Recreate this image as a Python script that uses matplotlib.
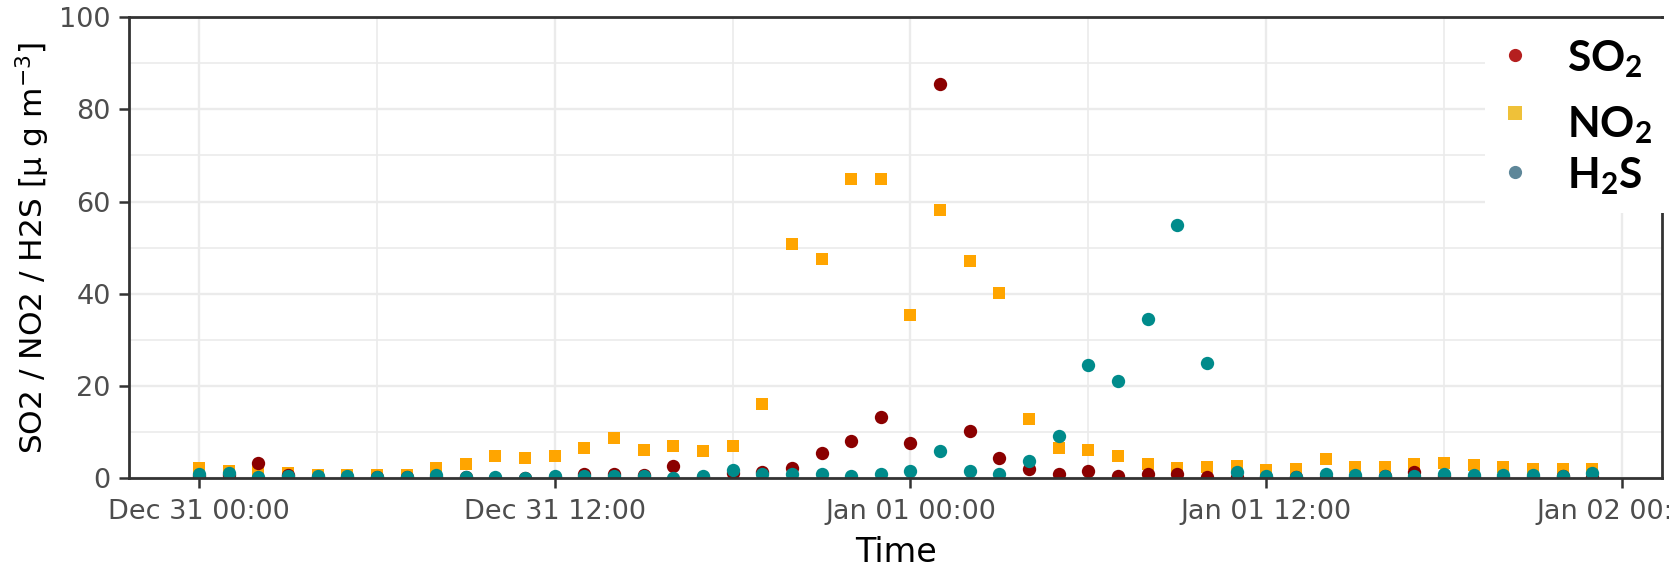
import numpy as np
import pandas as pd
import matplotlib
matplotlib.use("Agg")
import matplotlib.pyplot as plt
import matplotlib.dates as mdates

plt.rcParams['font.family'] = ['DejaVu Sans']
plt.rcParams['mathtext.fontset'] = 'custom'
plt.rcParams['mathtext.rm'] = 'DejaVu Sans'
plt.rcParams['mathtext.it'] = 'DejaVu Sans:italic'
plt.rcParams['mathtext.bf'] = 'Lato:bold'

# hourly concentrations, Dec 31 00:00 .. Jan 01 23:00
times = pd.date_range('2019-12-31 00:00', periods=48, freq='h')

no2 = [2.2, 1.5, 1.8, 1.2, 0.8, 0.8, 0.8, 0.8, 2.2, 3.0, 4.8, 4.3,
       4.8, 6.5, 8.7, 6.2, 6.9, 6.0, 6.9, 16.2, 50.8, 47.5, 64.9, 64.9,
       35.5, 58.1, 47.1, 40.2, 12.9, 6.5, 6.1, 4.8, 3.2, 2.3, 2.4, 2.6,
       1.7, 2.0, 4.1, 2.5, 2.5, 3.0, 3.4, 2.9, 2.4, 2.0, 2.0, 2.0]

so2 = [0.5, 0.8, 3.3, 0.8, 0.3, 0.3, 0.2, 0.2, 0.3, 0.2, 0.1, 0.1,
       0.2, 0.9, 0.9, 0.8, 2.7, 0.3, 1.2, 1.4, 2.2, 5.4, 8.0, 13.4,
       7.6, 85.4, 10.2, 4.3, 2.0, 1.0, 1.6, 0.6, 1.0, 0.9, 0.3, 0.3,
       0.2, 0.2, 0.3, 0.3, 0.5, 1.4, 0.4, 0.3, 0.3, 0.3, 0.6, 0.3]

h2s = [1.0, 1.2, 0.2, 0.4, 0.6, 0.6, 0.3, 0.3, 0.8, 0.3, 0.3, 0.0,
       0.4, 0.4, 0.4, 0.4, 0.1, 0.6, 1.8, 0.9, 0.9, 1.0, 0.6, 1.0,
       1.6, 6.0, 1.6, 1.0, 3.7, 9.2, 24.6, 21.2, 34.5, 55.0, 25.0, 1.3,
       0.6, 0.2, 0.9, 0.7, 0.4, 0.4, 0.9, 0.7, 0.7, 0.7, 0.4, 1.1]

fig = plt.figure(figsize=(16.69, 5.67), dpi=100)
ax = fig.add_axes([0.0775, 0.1564, 0.9183, 0.8136])

ax.plot(times, no2, ls='none', marker='s', ms=9.2, mew=0, color='#FFA500')
ax.plot(times, so2, ls='none', marker='o', ms=9.6, mew=0, color='#8B0000')
ax.plot(times, h2s, ls='none', marker='o', ms=9.6, mew=0, color='#008B8B')

ax.set_xlim(times[0] - pd.Timedelta(hours=2.35), times[0] + pd.Timedelta(hours=49.35))
ax.set_ylim(0, 100)

ax.xaxis.set_major_locator(mdates.HourLocator(byhour=[0, 12]))
ax.xaxis.set_minor_locator(mdates.HourLocator(byhour=[6, 18]))
ax.xaxis.set_major_formatter(mdates.DateFormatter('%b %d %H:%M'))
ax.set_yticks(np.arange(0, 101, 20))
ax.set_yticks(np.arange(10, 100, 20), minor=True)

ax.grid(which='major', color='#EBEBEB', lw=1.7)
ax.grid(which='minor', color='#EBEBEB', lw=1.2)
ax.set_axisbelow(True)
for s in ax.spines.values():
    s.set_color('#333333')
    s.set_linewidth(2.0)

ax.tick_params(which='major', length=7, width=1.8, color='#333333',
               labelsize=19.5, labelcolor='#4D4D4D')
ax.tick_params(axis='x', pad=8)
ax.tick_params(axis='y', pad=6.5)
ax.tick_params(which='minor', length=0)

ax.set_xlabel('Time', fontsize=24, color='black')
ax.set_ylabel('SO2 / NO2 / H2S [µ g m$^{-3}$]', fontsize=22.5, color='black')
ax.xaxis.set_label_coords(0.5, -0.126)
ax.yaxis.set_label_coords(-0.0505, 0.5)

# legend box pasted over the top right corner
lax = fig.add_axes([0.8898, 0.6243, 0.1102, 0.3422], zorder=5)
lax.set_xlim(0, 1)
lax.set_ylim(0, 1)
lax.axis('off')
lax.add_patch(plt.Rectangle((0, 0), 1, 1, transform=lax.transAxes,
                            facecolor='white', edgecolor='none'))
names = [r'$\mathbf{SO_2}$', r'$\mathbf{NO_2}$', r'$\mathbf{H_2S}$']
marks = ['o', 's', 'o']
cols = ['#B51F1F', '#EFC139', '#5E8799']
mark_y = [0.814, 0.515, 0.211]
text_y = [0.728, 0.390, 0.125]
for nm, mk, c, my, ty in zip(names, marks, cols, mark_y, text_y):
    lax.plot([0.16], [my], ls='none', marker=mk, ms=9.5, mew=0, color=c)
    lax.text(0.446, ty, nm, fontsize=30.5, va='baseline', ha='left', color='black')

fig.savefig('out.png', dpi=100)
